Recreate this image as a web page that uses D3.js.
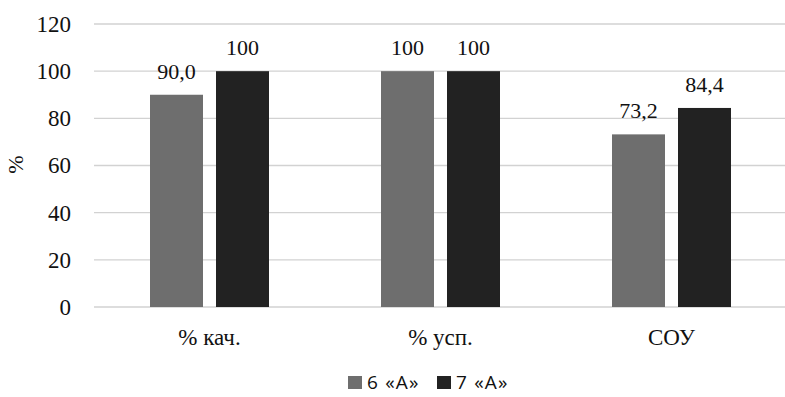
<!DOCTYPE html>
<html>
<head>
    <meta charset="utf-8">
    <title>6 А vs 7 А</title>
    <script src="https://d3js.org/d3.v7.min.js"></script>
</head>
<body style="margin:0">
    <div id="chart"></div>
    <script>
        // data
        var categories = ["% кач.", "% усп.", "СОУ"];
        var seriesNames = ["6 «А»", "7 «А»"];
        var values6 = [90.0, 100, 73.2];
        var values7 = [100, 100, 84.4];
        var labels6 = ["90,0", "100", "73,2"];
        var labels7 = ["100", "100", "84,4"];
        var yTicks = [0, 20, 40, 60, 80, 100, 120];
        var colors = ["#6e6e6e", "#222222"];

        var W = 785, H = 397;
        var margin = { top: 24, right: 0, bottom: 90, left: 94 },
            width = 787 - margin.left,
            height = 307 - margin.top;
        var serif = "'Liberation Serif'";

        var svg = d3.select("#chart").append("svg")
            .attr("width", W).attr("height", H);
        var g = svg.append("g")
            .attr("transform", "translate(" + margin.left + "," + margin.top + ")");

        var x = d3.scaleBand().domain(categories).range([0, width]).padding(0);
        var y = d3.scaleLinear().domain([0, 120]).range([height, 0]);

        // gridlines
        g.selectAll(".grid").data(yTicks).enter().append("line")
            .attr("x1", 0).attr("x2", width)
            .attr("y1", function (d) { return y(d); })
            .attr("y2", function (d) { return y(d); })
            .attr("stroke", "#d2d2d2").attr("stroke-width", 1.3);

        // y axis labels
        var yAxis = g.append("g").call(d3.axisLeft(y).tickValues(yTicks).tickSize(0).tickPadding(23));
        yAxis.select(".domain").remove();
        yAxis.selectAll("text").style("font-size", "23px").style("font-family", serif).attr("fill", "#111");

        svg.append("text")
            .attr("transform", "translate(23," + (margin.top + height / 2 - 1) + ") rotate(-90)")
            .attr("text-anchor", "middle")
            .attr("fill", "#111")
            .style("font-family", serif)
            .style("font-size", "22px")
            .text("%");

        // bars
        var barW = 53, gap = 13;
        var rows = categories.map(function (c, i) {
            return { cat: c, vals: [values6[i], values7[i]], labs: [labels6[i], labels7[i]] };
        });
        var grp = g.selectAll(".cat").data(rows).enter().append("g")
            .attr("transform", function (d) { return "translate(" + (x(d.cat) + x.bandwidth() / 2) + ",0)"; });

        [0, 1].forEach(function (s) {
            var off = s === 0 ? -(barW + gap / 2) : gap / 2;
            grp.append("rect")
                .attr("x", off)
                .attr("width", barW)
                .attr("y", function (d) { return y(d.vals[s]); })
                .attr("height", function (d) { return height - y(d.vals[s]); })
                .attr("fill", colors[s]);
            grp.append("text")
                .attr("x", off + barW / 2)
                .attr("y", function (d) { return y(d.vals[s]) - 16; })
                .attr("text-anchor", "middle")
                .attr("fill", "#111")
                .style("font-family", serif)
                .style("font-size", "22px")
                .text(function (d) { return d.labs[s]; });
        });

        // category labels
        g.append("g").selectAll("text").data(categories).enter().append("text")
            .attr("x", function (d) { return x(d) + x.bandwidth() / 2; })
            .attr("y", height + 38)
            .attr("text-anchor", "middle")
            .attr("fill", "#111")
            .style("font-family", serif)
            .style("font-size", "23px")
            .text(function (d) { return d; });

        // legend
        var legend = svg.append("g");
        var lx = [348, 437];
        seriesNames.forEach(function (n, i) {
            legend.append("rect").attr("x", lx[i]).attr("y", 376).attr("width", 14).attr("height", 13).attr("fill", colors[i]);
            legend.append("text").attr("x", lx[i] + 19).attr("y", 389)
                .attr("fill", "#111")
                .style("font-family", "'Open Sans'")
                .style("font-size", "19px").style("letter-spacing", "1.2px").text(n);
        });
    </script>
</body>
</html>
